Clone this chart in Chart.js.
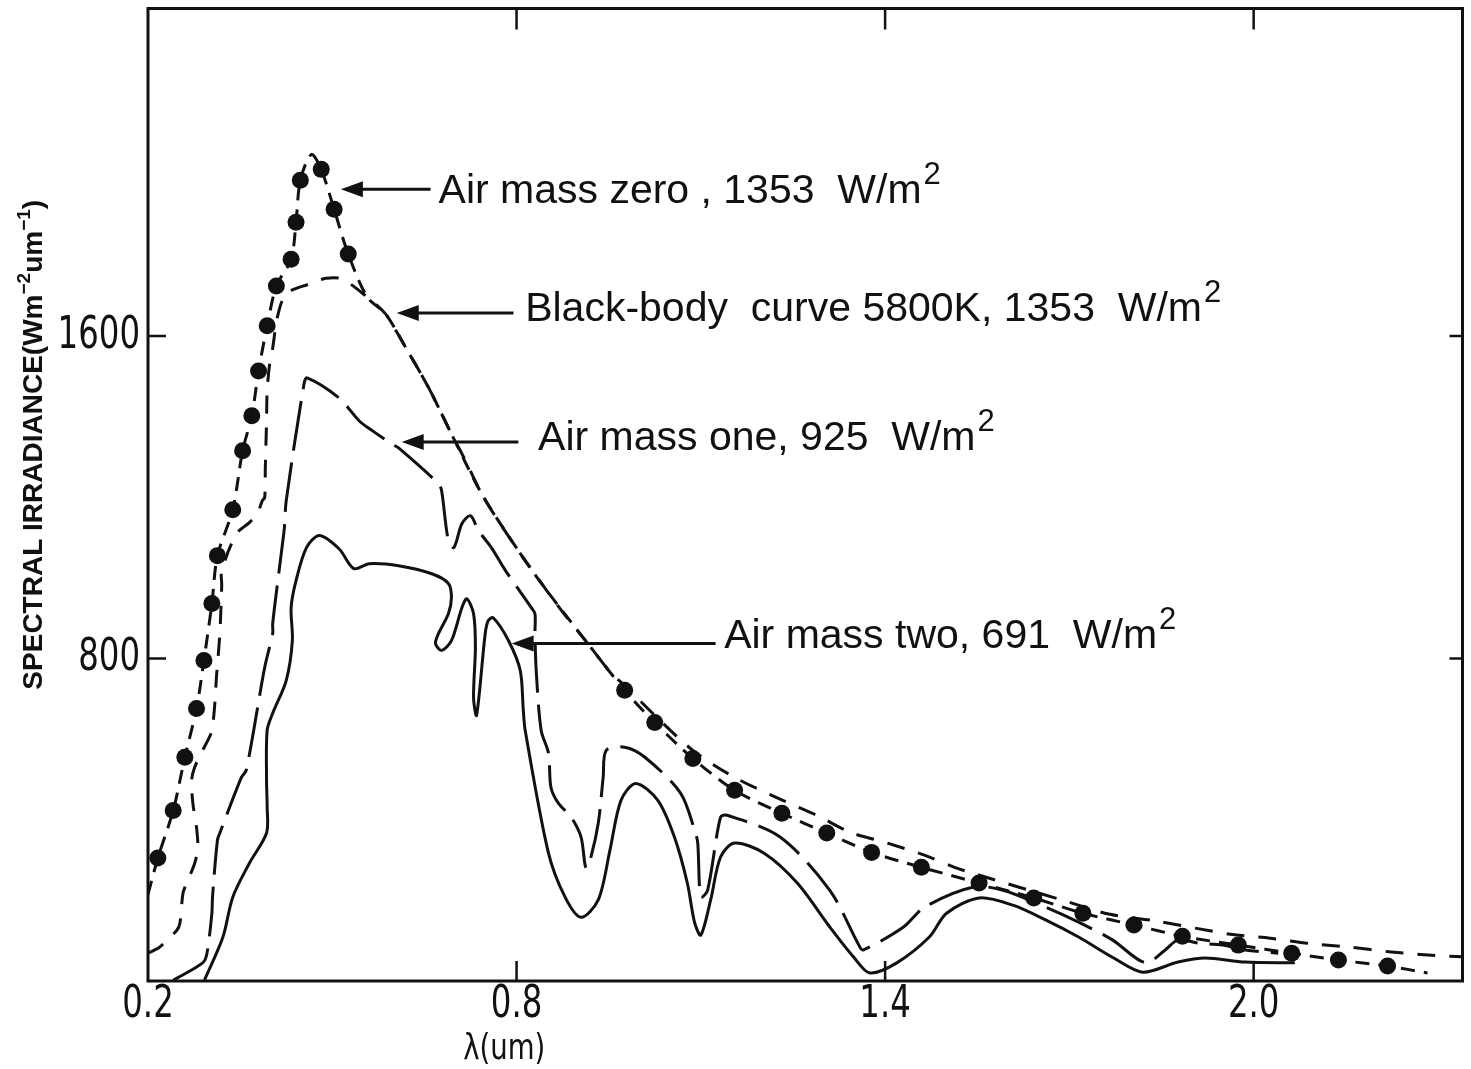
<!DOCTYPE html>
<html><head><meta charset="utf-8">
<script src="https://cdn.jsdelivr.net/npm/chart.js@4.4.1/dist/chart.umd.min.js"></script>
<style>html,body{margin:0;padding:0;background:#fff;}</style>
</head><body>
<canvas id="c" width="1471" height="1069"></canvas>
<script>
// ---- tick labels ----
const xTickValues = [0.2, 0.8, 1.4, 2.0];
const xTickLabels = ['0.2', '0.8', '1.4', '2.0'];
const yTickValues = [800, 1600];
const yTickLabels = ['800', '1600'];

// ---- Air mass zero (dashed line) ----
const am0LineX = [0.200,0.216,0.241,0.260,0.279,0.291,0.304,0.313,0.338,0.354,0.369,0.380,0.394,0.409,0.433,0.441,0.448,0.466,0.482,0.503,0.526,0.557,0.587,0.620,0.657,0.694,0.743,0.803,0.843,0.916,0.976,1.025,1.087,1.155,1.232,1.305,1.378,1.459,1.553,1.642,1.722,1.805,1.884,1.975,2.062,2.138,2.218,2.283];
const am0LineY = [215,305,423,555,676,795,936,1055,1169,1315,1402,1513,1625,1724,1790,1882,1986,2050,2013,1914,1803,1696,1654,1570,1471,1357,1209,1067,981,837,721,641,552,473,416,367,319,282,243,206,168,139,111,89,69,52,37,20];
// ---- Air mass zero (markers) ----
const am0MarkX = [0.216,0.241,0.260,0.279,0.291,0.304,0.313,0.338,0.354,0.369,0.380,0.394,0.409,0.433,0.441,0.448,0.482,0.503,0.526,0.976,1.025,1.087,1.155,1.232,1.305,1.378,1.459,1.553,1.642,1.722,1.805,1.884,1.975,2.062,2.138,2.218];
const am0MarkY = [305,423,555,676,795,936,1055,1169,1315,1402,1513,1625,1724,1790,1882,1986,2013,1914,1803,721,641,552,473,416,367,319,282,243,206,168,139,111,89,69,52,37];

// ---- Black-body curve 5800K ----
const bbX = [0.200,0.211,0.219,0.247,0.252,0.257,0.263,0.276,0.281,0.279,0.273,0.271,0.276,0.289,0.304,0.312,0.317,0.320,0.320,0.344,0.365,0.378,0.386,0.390,0.391,0.393,0.394,0.398,0.403,0.411,0.425,0.463,0.490,0.516,0.557,0.587,0.604,0.620,0.657,0.694,0.717,0.743,0.767,0.803,0.843,0.877,0.916,0.954,0.976,1.025,1.087,1.155,1.229,1.289,1.343,1.404,1.464,1.513,1.537,1.694,1.764,1.840,1.962,2.027,2.096,2.156,2.224,2.289,2.340];
const bbY = [69,77,84,126,144,218,243,292,332,381,441,498,530,572,622,765,864,981,1018,1109,1137,1159,1191,1199,1273,1389,1464,1530,1570,1649,1704,1729,1743,1741,1696,1654,1612,1570,1471,1357,1290,1209,1149,1067,981,911,837,763,733,659,572,505,451,411,369,342,312,282,270,198,166,149,116,106,92,84,72,64,60];

// ---- Air mass one ----
const am1X = [0.241,0.289,0.296,0.304,0.305,0.313,0.317,0.352,0.360,0.390,0.403,0.403,0.419,0.422,0.425,0.454,0.459,0.511,0.544,0.565,0.597,0.608,0.673,0.678,0.689,0.698,0.711,0.725,0.738,0.759,0.782,0.824,0.830,0.830,0.832,0.840,0.852,0.856,0.868,0.889,0.905,0.913,0.921,0.933,0.941,0.946,0.976,1.009,1.067,1.091,1.095,1.100,1.111,1.132,1.143,1.229,1.310,1.359,1.365,1.430,1.464,1.544,1.592,1.662,1.715,1.770,1.824,1.856,1.877,1.910,1.949,1.986,2.040];
const am1Y = [2,45,69,168,208,349,367,505,523,778,862,887,1085,1124,1191,1481,1496,1446,1389,1365,1332,1322,1233,1216,1092,1075,1134,1154,1117,1075,1018,926,911,862,770,622,565,480,441,406,357,280,307,391,505,572,580,555,466,369,342,208,225,406,411,357,225,84,77,134,183,233,225,183,146,102,45,77,102,94,89,77,69];

// ---- Air mass two ----
const am2X = [0.292,0.322,0.338,0.365,0.393,0.394,0.393,0.394,0.403,0.425,0.435,0.433,0.441,0.458,0.479,0.511,0.535,0.560,0.608,0.662,0.689,0.694,0.689,0.673,0.668,0.678,0.694,0.711,0.719,0.730,0.733,0.730,0.735,0.749,0.754,0.762,0.787,0.806,0.811,0.814,0.852,0.879,0.905,0.933,0.952,0.970,0.994,1.030,1.057,1.078,1.090,1.100,1.116,1.132,1.155,1.203,1.257,1.310,1.349,1.375,1.419,1.472,1.500,1.553,1.608,1.662,1.715,1.770,1.819,1.877,1.921,1.986,2.067];
const am2Y = [2,109,208,292,367,431,498,622,664,745,844,926,993,1075,1105,1072,1023,1035,1030,1010,986,951,911,862,837,820,844,926,948,911,827,703,659,862,894,901,844,770,671,622,317,208,158,201,324,448,490,448,357,243,144,114,201,307,342,317,243,134,59,20,45,109,168,206,188,151,109,59,22,47,57,47,45];

// ---- annotations (data coordinates) ----
const annotations = [
  {text:'Air mass zero , 1353  W/m', sup:'2', tipX:0.514, tailX:0.660, textX:0.673, arrowY:1964, baseY:1929},
  {text:'Black-body  curve 5800K, 1353  W/m', sup:'2', tipX:0.605, tailX:0.795, textX:0.814, arrowY:1657, baseY:1637},
  {text:'Air mass one, 925  W/m', sup:'2', tipX:0.613, tailX:0.803, textX:0.835, arrowY:1337, baseY:1317},
  {text:'Air mass two, 691  W/m', sup:'2', tipX:0.792, tailX:1.124, textX:1.138, arrowY:837, baseY:825}
];

const toPts = (xs, ys) => xs.map((x, i) => ({x: x, y: ys[i]}));
const INK = '#111';
const COND = "'DejaVu Sans Condensed', 'DejaVu Sans', sans-serif";
const SANS = "'Liberation Sans', Arial, sans-serif";

function squeezeText(ctx, txt, x, y, sx, align) {
  ctx.save();
  ctx.translate(x, y);
  ctx.scale(sx, 1);
  ctx.textAlign = align;
  ctx.fillText(txt, 0, 0);
  ctx.restore();
}

const decor = {
  id: 'decor',
  afterDraw(chart) {
    const ctx = chart.ctx, a = chart.chartArea;
    const xs = chart.scales.x, ys = chart.scales.y;
    ctx.save();
    ctx.strokeStyle = INK; ctx.fillStyle = INK;
    // frame
    ctx.lineWidth = 3;
    ctx.strokeRect(a.left, a.top, a.right - a.left, a.bottom - a.top);
    // inward ticks
    ctx.lineWidth = 2.5;
    ctx.beginPath();
    xTickValues.slice(1).forEach(v => {
      const p = xs.getPixelForValue(v);
      ctx.moveTo(p, a.bottom); ctx.lineTo(p, a.bottom - 20);
      ctx.moveTo(p, a.top); ctx.lineTo(p, a.top + 21);
    });
    yTickValues.forEach(v => {
      const p = ys.getPixelForValue(v);
      ctx.moveTo(a.left, p); ctx.lineTo(a.left + 18, p);
      ctx.moveTo(a.right, p); ctx.lineTo(a.right - 13, p);
    });
    ctx.stroke();
    // tick labels (condensed lettering)
    ctx.font = '45px ' + COND;
    ctx.textBaseline = 'middle';
    xTickValues.forEach((v, i) => squeezeText(ctx, xTickLabels[i], xs.getPixelForValue(v), a.bottom + 24, 0.8, 'center'));
    yTickValues.forEach((v, i) => squeezeText(ctx, yTickLabels[i], a.left - 8, ys.getPixelForValue(v), 0.8, 'right'));
    // annotations
    annotations.forEach(an => {
      const tip = xs.getPixelForValue(an.tipX), tail = xs.getPixelForValue(an.tailX);
      const ay = ys.getPixelForValue(an.arrowY);
      ctx.lineWidth = 3;
      ctx.beginPath(); ctx.moveTo(tip + 15, ay); ctx.lineTo(tail, ay); ctx.stroke();
      ctx.beginPath(); ctx.moveTo(tip, ay); ctx.lineTo(tip + 22, ay - 8); ctx.lineTo(tip + 22, ay + 8); ctx.closePath(); ctx.fill();
      const tx = xs.getPixelForValue(an.textX), by = ys.getPixelForValue(an.baseY);
      ctx.font = '41px ' + SANS; ctx.textAlign = 'left'; ctx.textBaseline = 'alphabetic';
      ctx.fillText(an.text, tx, by);
      const w = ctx.measureText(an.text).width;
      ctx.font = '31px ' + SANS;
      ctx.fillText(an.sup, tx + w + 2, by - 19);
    });
    // x axis title
    ctx.font = '36px ' + COND; ctx.textBaseline = 'middle';
    squeezeText(ctx, '\u03bb(um)', xs.getPixelForValue(0.78), 1050, 0.85, 'center');
    // y axis title (rotated, with superscripts)
    ctx.translate(32, ys.getPixelForValue(1330));
    ctx.rotate(-Math.PI / 2);
    const parts = [['SPECTRAL IRRADIANCE(Wm', 0], ['\u22122', 1], ['um', 0], ['\u22121', 1], [')', 0]];
    const fBig = 'bold 28px ' + SANS, fSmall = 'bold 19px ' + SANS;
    let total = 0;
    parts.forEach(p => { ctx.font = p[1] ? fSmall : fBig; total += ctx.measureText(p[0]).width; });
    let cx = -total / 2;
    ctx.textAlign = 'left'; ctx.textBaseline = 'alphabetic';
    parts.forEach(p => {
      ctx.font = p[1] ? fSmall : fBig;
      ctx.fillText(p[0], cx, p[1] ? -2 : 10);
      cx += ctx.measureText(p[0]).width;
    });
    ctx.restore();
  }
};

const lineDs = (label, xs, ys, dash) => ({
  label: label, data: toPts(xs, ys), showLine: true, borderColor: INK, borderWidth: 3,
  borderDash: dash, pointRadius: 0, tension: 0.3, fill: false
});

new Chart(document.getElementById('c'), {
  type: 'scatter',
  data: {
    datasets: [
      lineDs('Air mass two', am2X, am2Y, []),
      lineDs('Air mass one', am1X, am1Y, [50, 12]),
      lineDs('Black-body curve 5800K', bbX, bbY, [18, 14]),
      lineDs('Air mass zero', am0LineX, am0LineY, [14, 9]),
      {label: 'Air mass zero points', data: toPts(am0MarkX, am0MarkY), showLine: false,
       pointRadius: 8.5, pointBackgroundColor: INK, pointBorderColor: INK, pointBorderWidth: 0}
    ]
  },
  options: {
    responsive: false, animation: false, devicePixelRatio: 1,
    layout: {padding: {top: 7, right: 3, left: 0, bottom: 0}},
    plugins: {legend: {display: false}, tooltip: {enabled: false}},
    scales: {
      x: {
        type: 'linear', min: 0.2, max: 2.34,
        grid: {display: false, drawTicks: false}, border: {display: false},
        afterBuildTicks: s => { s.ticks = xTickValues.map(v => ({value: v})); },
        afterFit: s => { s.height = 88; s.paddingLeft = 0; s.paddingRight = 0; s.paddingTop = 0; s.paddingBottom = 0; },
        ticks: {display: false, autoSkip: false, maxRotation: 0}
      },
      y: {
        type: 'linear', min: 0, max: 2412,
        grid: {display: false, drawTicks: false}, border: {display: false},
        afterBuildTicks: s => { s.ticks = yTickValues.map(v => ({value: v})); },
        afterFit: s => { s.width = 148; s.paddingLeft = 0; s.paddingRight = 0; s.paddingTop = 0; s.paddingBottom = 0; },
        ticks: {display: false, autoSkip: false}
      }
    }
  },
  plugins: [decor]
});
</script>
</body></html>
